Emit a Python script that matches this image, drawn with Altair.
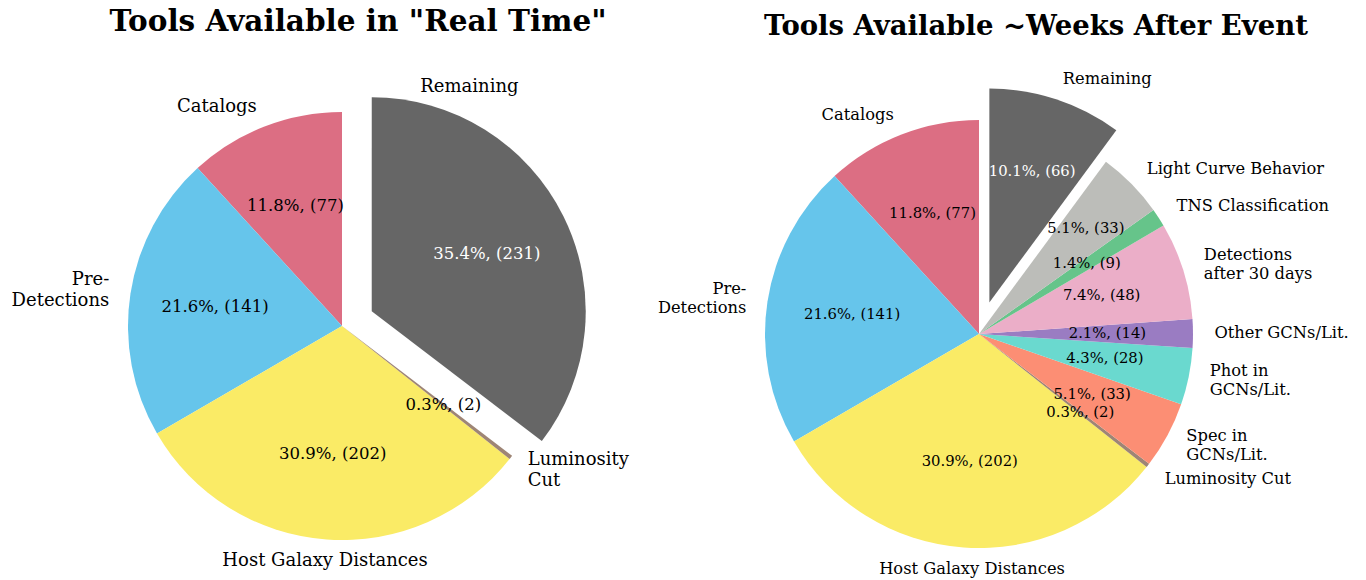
import math
import altair as alt
import pandas as pd

# ---------------- data ----------------
left_title = 'Tools Available in "Real Time"'
right_title = "Tools Available ~Weeks After Event"

left_keys = ["Catalogs", "Pre-Detections", "Host Galaxy Distances", "Luminosity Cut", "Remaining"]
left_labels = ["Catalogs", "Pre-\nDetections", "Host Galaxy Distances", "Luminosity\nCut", "Remaining"]
left_values = [77, 141, 202, 2, 231]

right_keys = ["Catalogs", "Pre-Detections", "Host Galaxy Distances", "Luminosity Cut",
              "Spec in GCNs/Lit.", "Phot in GCNs/Lit.", "Other GCNs/Lit.",
              "Detections after 30 days", "TNS Classification", "Light Curve Behavior", "Remaining"]
right_labels = ["Catalogs", "Pre-\nDetections", "Host Galaxy Distances", "Luminosity Cut",
                "Spec in\nGCNs/Lit.", "Phot in\nGCNs/Lit.", "Other GCNs/Lit.",
                "Detections\nafter 30 days", "TNS Classification", "Light Curve Behavior", "Remaining"]
right_values = [77, 141, 202, 2, 33, 28, 14, 48, 9, 33, 66]

color_keys = ["Catalogs", "Pre-Detections", "Host Galaxy Distances", "Luminosity Cut",
              "Spec in GCNs/Lit.", "Phot in GCNs/Lit.", "Other GCNs/Lit.",
              "Detections after 30 days", "TNS Classification", "Light Curve Behavior", "Remaining"]
color_values = ["#dc6e83", "#66c5eb", "#faeb66", "#9e8575",
                "#fc8e74", "#6ad9cf", "#9a7cc2",
                "#ebaec8", "#66c48a", "#bcbdb9", "#666666"]

FONT = "DejaVu Serif"
R = 214


def build_df(keys, labels, values, explode_key, pct_dist):
    total = float(sum(values))
    rows = []
    cum = 0.0
    for k, lab, v in zip(keys, labels, values):
        # matplotlib: counter-clockwise from 12 o'clock -> vega: clockwise from 12 o'clock
        start = total - (cum + v)
        end = total - cum
        mid = (start + end) / 2.0
        ang = mid / total * 2 * math.pi
        sx = math.sin(ang)
        if abs(sx) < 0.15:
            ha = "center"
        elif sx > 0:
            ha = "left"
        else:
            ha = "right"
        pct = 100.0 * v / total
        rows.append(dict(key=k, label=lab, value=v, start=start, end=end, mid=mid,
                         ha=ha, exploded=(k == explode_key),
                         multi=("\n" in lab),
                         pr=pct_dist.get(k, 0.6) * R,
                         pct=f"{pct:.1f}%, ({v})"))
        cum += v
    return pd.DataFrame(rows), total


def pie_layers(keys, labels, values, cx, cy, label_size, pct_size, line_h,
               explode_frac=0.155, remaining_label=None, center_dx=0, center_dy=0,
               pct_dist=None):
    df, total = build_df(keys, labels, values, "Remaining", pct_dist or {})
    theta_scale = alt.Scale(domain=[0, total], range=[0, 2 * math.pi], zero=False, nice=False)
    color = alt.Color("key:N", scale=alt.Scale(domain=color_keys, range=color_values), legend=None)

    ex = df[df.exploded].iloc[0]
    ex_ang = ex["mid"] / total * 2 * math.pi
    e = explode_frac * R
    ecx = cx + e * math.sin(ex_ang)
    ecy = cy - e * math.cos(ex_ang)

    base = alt.Chart(df)
    layers = []
    # wedges
    layers.append(base.transform_filter("!datum.exploded").mark_arc(radius=R).encode(
        theta=alt.Theta("start:Q", scale=theta_scale), theta2="end:Q", color=color,
        x=alt.value(cx), y=alt.value(cy)))
    layers.append(base.transform_filter("datum.exploded").mark_arc(radius=R).encode(
        theta=alt.Theta("start:Q", scale=theta_scale), theta2="end:Q", color=color,
        x=alt.value(ecx), y=alt.value(ecy)))
    # outer labels
    for ha in ["left", "right", "center"]:
        for multi in [False, True]:
            dy = -line_h / 2.0 if multi else 0.0
            dx = 0.0
            if ha == "center":
                dy += center_dy
                dx += center_dx
            layers.append(base.transform_filter(
                f"!datum.exploded && datum.ha == '{ha}' && datum.multi == {str(multi).lower()}").mark_text(
                align=ha, baseline="middle", font=FONT, fontSize=label_size,
                lineBreak="\n", lineHeight=line_h, color="black", dx=dx, dy=dy).encode(
                theta=alt.Theta("mid:Q", scale=theta_scale), radius=alt.value(1.1 * R),
                text="label:N", x=alt.value(cx), y=alt.value(cy)))
    if remaining_label is None:
        layers.append(base.transform_filter("datum.exploded").mark_text(
            align="left", baseline="middle", font=FONT, fontSize=label_size,
            lineBreak="\n", lineHeight=line_h, color="black").encode(
            theta=alt.Theta("mid:Q", scale=theta_scale), radius=alt.value(1.1 * R),
            text="label:N", x=alt.value(ecx), y=alt.value(ecy)))
    else:
        # label moved by hand above the exploded wedge (angle in degrees, distance in px)
        deg, dist = remaining_label
        layers.append(base.transform_filter("datum.exploded").mark_text(
            align="center", baseline="middle", font=FONT, fontSize=label_size,
            color="black", theta=math.radians(deg), radius=dist).encode(
            text="label:N", x=alt.value(ecx), y=alt.value(ecy)))
    # percentage labels
    layers.append(base.transform_filter("!datum.exploded").mark_text(
        align="center", baseline="middle", font=FONT, fontSize=pct_size, color="black").encode(
        theta=alt.Theta("mid:Q", scale=theta_scale), radius=alt.Radius("pr:Q", scale=None),
        text="pct:N", x=alt.value(cx), y=alt.value(cy)))
    layers.append(base.transform_filter("datum.exploded").mark_text(
        align="center", baseline="middle", font=FONT, fontSize=pct_size, color="white").encode(
        theta=alt.Theta("mid:Q", scale=theta_scale), radius=alt.Radius("pr:Q", scale=None),
        text="pct:N", x=alt.value(ecx), y=alt.value(ecy)))
    return layers


left_layers = pie_layers(left_keys, left_labels, left_values, cx=334, cy=318,
                         label_size=18, pct_size=16.5, line_h=21.5,
                         remaining_label=(23.5, 245))
right_layers = pie_layers(right_keys, right_labels, right_values, cx=971, cy=326,
                          label_size=16.3, pct_size=14.8, line_h=18.5,
                          center_dx=10, center_dy=0,
                          pct_dist={"Light Curve Behavior": 0.70, "Remaining": 0.64})

titles = []
for t, x, y, fs in [(left_title, 350, 23, 29.5), (right_title, 1028, 27, 27.5)]:
    titles.append(alt.Chart(pd.DataFrame({"t": [t]})).mark_text(
        align="center", baseline="alphabetic", font=FONT, fontSize=fs, fontWeight="bold",
        color="black").encode(text="t:N", x=alt.value(x), y=alt.value(y)))

chart = alt.layer(*left_layers, *right_layers, *titles).properties(
    width=1350, height=572, autosize=alt.AutoSizeParams(type="none"), padding=0,
    background="white"
).configure_view(stroke=None)

chart.save("out.html", embed_options={"renderer": "svg", "actions": False})
